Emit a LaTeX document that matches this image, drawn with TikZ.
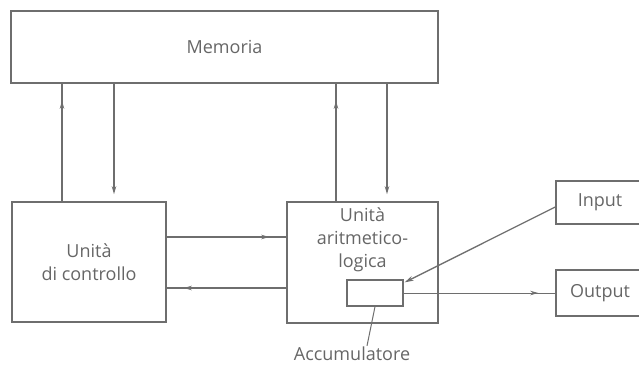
\documentclass[tikz,border=0pt]{standalone}
\usepackage{fontspec}
\setmainfont{Open Sans}
\usetikzlibrary{arrows.meta, decorations.markings}
\definecolor{LineGray}{HTML}{6E6E6E}
\definecolor{TextGray}{HTML}{666666}

\begin{document}
\begin{tikzpicture}[x=1pt, y=-1pt,
    unitbox/.style={draw=LineGray, line width=1.6pt, font=\fontsize{18}{23}\selectfont, text=TextGray, align=center, inner sep=0pt},
    wire/.style={color=LineGray, line width=1.3pt},
    tipat/.style={postaction={decorate}, decoration={markings, mark=at position #1 with {\arrow{Stealth[length=8pt, width=4.5pt]}}}}]
    \useasboundingbox (0,0) rectangle (639,365);
    \clip (0,0) rectangle (639,365);

    % Units
    \node[unitbox, minimum width=427pt, minimum height=72pt] (mem) at (224.5,47) {Memoria};
    \node[unitbox, minimum width=154pt, minimum height=120pt] (ctrl) at (89,262) {Unità\\di controllo};
    \node[unitbox, minimum width=151pt, minimum height=121pt] (alu) at (362.5,262.5) {};
    \node[font=\fontsize{18}{23}\selectfont, text=TextGray, align=center] (alutext) at (362.5,240) {Unità\\aritmetico-\\logica};
    \node[unitbox, line width=1.3pt, minimum width=56pt, minimum height=26pt] (acc) at (375,293) {};
    \node[unitbox, minimum width=88pt, minimum height=43pt] (inp) at (600,202.5) {Input};
    \node[unitbox, minimum width=88pt, minimum height=46pt] (outp) at (600,293) {Output};
    \node[font=\fontsize{18}{23}\selectfont, text=TextGray, inner sep=1pt] (acclabel) at (352,354) {Accumulatore};

    % Memory <-> units
    \draw[wire, tipat=-17pt] ([xshift=-27pt]ctrl.north) -- ([xshift=-27pt]ctrl.north |- mem.south);
    \draw[wire, -{Stealth[length=8pt, width=4.5pt]}, shorten >=7pt] ([xshift=25pt]ctrl.north |- mem.south) -- ([xshift=25pt]ctrl.north);
    \draw[wire, tipat=-17pt] ([xshift=-26.5pt]alu.north) -- ([xshift=-26.5pt]alu.north |- mem.south);
    \draw[wire, -{Stealth[length=8pt, width=4.5pt]}, shorten >=7pt] ([xshift=24.5pt]alu.north |- mem.south) -- ([xshift=24.5pt]alu.north);

    % Control <-> ALU
    \draw[wire, tipat=-17pt] ([yshift=25pt]ctrl.east) -- ([yshift=25pt]ctrl.east -| alu.west);
    \draw[wire, tipat=-17pt] ([yshift=-26pt]ctrl.east -| alu.west) -- ([yshift=-26pt]ctrl.east);

    % Input / output
    \draw[wire, -{Stealth[length=9pt, width=5pt]}] ([yshift=-4.5pt]inp.west) -- ([xshift=1pt, yshift=-3pt]acc.north east);
    \draw[wire, line width=0.9pt, tipat=-17pt] (acc.east) -- (outp.west);
    \draw[wire, line width=1pt] ([xshift=15pt]acclabel.north) -- (acc.south);
\end{tikzpicture}
\end{document}
